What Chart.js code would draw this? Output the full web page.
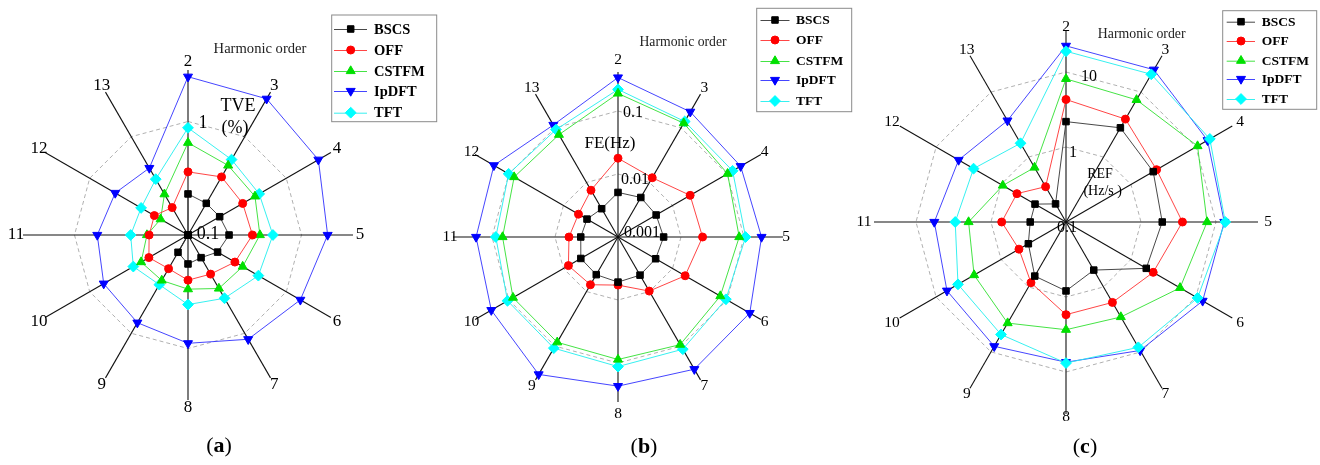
<!DOCTYPE html>
<html><head><meta charset="utf-8">
<script src="https://cdn.jsdelivr.net/npm/chart.js@4.4.1/dist/chart.umd.min.js"></script>
<style>
html,body{margin:0;padding:0;background:#fff;width:1320px;height:465px;overflow:hidden}
.panel{position:absolute;top:0;height:465px}
canvas{display:block;background:transparent}
</style></head><body>
<div class="panel" style="left:0;width:440px"><canvas id="ca" width="440" height="465"></canvas></div>
<div class="panel" style="left:440px;width:420px"><canvas id="cb" width="420" height="465"></canvas></div>
<div class="panel" style="left:850px;width:470px"><canvas id="cc" width="470" height="465"></canvas></div>
<script>
// ---------- data ----------
const harmonicOrders = ['2','3','4','5','6','7','8','9','10','11','12','13'];
const seriesNames = ['BSCS','OFF','CSTFM','IpDFT','TFT'];

// (a) TVE (%)
const tveBSCS  = [0.23, 0.21, 0.21, 0.23, 0.20, 0.17, 0.18, 0.15, 0.10, 0.10, 0.10, 0.10];
const tveOFF   = [0.36, 0.39, 0.36, 0.37, 0.30, 0.25, 0.25, 0.22, 0.25, 0.22, 0.22, 0.19];
const tveCSTFM = [0.65, 0.51, 0.48, 0.43, 0.36, 0.35, 0.30, 0.29, 0.30, 0.23, 0.19, 0.26];
const tveIpDFT = [2.48, 2.43, 2.12, 1.70, 1.39, 1.15, 0.90, 0.78, 0.72, 0.63, 0.55, 0.48];
const tveTFT   = [0.88, 0.585, 0.53, 0.56, 0.52, 0.44, 0.41, 0.32, 0.36, 0.32, 0.30, 0.37];
const tveTickLabels = ['0.1', '1'];

// (b) FE (Hz)
const feBSCS  = [0.0051, 0.0053, 0.0050, 0.0053, 0.0049, 0.0050, 0.0052, 0.0049, 0.0048, 0.0039, 0.0037, 0.0033];
const feOFF   = [0.0178, 0.0122, 0.021, 0.022, 0.017, 0.0098, 0.0058, 0.0075, 0.0081, 0.0060, 0.0053, 0.0072];
const feCSTFM = [0.19, 0.122, 0.102, 0.084, 0.075, 0.094, 0.088, 0.085, 0.084, 0.068, 0.080, 0.075];
const feIpDFT = [0.34, 0.197, 0.177, 0.19, 0.26, 0.265, 0.233, 0.33, 0.21, 0.179, 0.188, 0.113];
const feTFT   = [0.22, 0.131, 0.126, 0.106, 0.095, 0.114, 0.114, 0.109, 0.106, 0.087, 0.101, 0.093];
const feTickLabels = ['0.001', '0.01', '0.1'];

// (c) REF (Hz/s)
const refBSCS  = [2.18, 2.82, 2.2, 1.92, 1.72, 0.55, 0.83, 0.68, 0.38, 0.30, 0.30, 0.19];
const refOFF   = [4.3, 3.84, 2.48, 3.57, 2.2, 1.73, 1.72, 0.86, 0.53, 0.72, 0.57, 0.35];
const refCSTFM = [8.1, 7.6, 10.6, 7.6, 5.7, 2.9, 2.73, 3.6, 2.6, 1.99, 0.94, 0.69];
const refIpDFT = [22.3, 22.1, 15.1, 12.9, 12.7, 9.5, 7.4, 8.2, 6.8, 5.7, 4.5, 3.64];
const refTFT   = [18.9, 18.8, 16.4, 13.3, 10.6, 8.5, 7.6, 5.4, 4.6, 3.0, 2.65, 1.63];
const refTickLabels = ['0.1', '1', '10'];

// ---------- styles ----------
const SERIF = '"Liberation Serif", "Times New Roman", serif';
const seriesStyle = [
  {color:'#000000', line:'#333333', pointStyle:'rect',     rotation:0,   radius:4.6, order:0},
  {color:'#ff0000', line:'#ff3030', pointStyle:'circle',   rotation:0,   radius:4.0, order:1},
  {color:'#00e000', line:'#30e030', pointStyle:'triangle', rotation:0,   radius:5.2, order:2},
  {color:'#0000ff', line:'#3030ff', pointStyle:'triangle', rotation:180, radius:5.2, order:4},
  {color:'#00ffff', line:'#20eeee', pointStyle:'rectRot',  rotation:0,   radius:5.4, order:3}
];

const panels = [
  {
    id:'ca', series:[tveBSCS, tveOFF, tveCSTFM, tveIpDFT, tveTFT], tickLabels: tveTickLabels,
    cx:188, cy:235, R:165, decadePx:113.5,
    axisFont:17, axisOffV:8, axisOffH:7, tickFont:18, tickOffsets:[[20,-1],[15,2]],
    unit:{font:18, lines:[['TVE',238,106],['(%)',235,128]]},
    order:{x:260, y:49, font:14.6},
    legend:{box:[331.7,15,105,106.7], rows:[29,50,71,91,112.7], line:[334,367], mx:350.7, tx:374, font:14.5},
    tag:{text:'a', x:219, y:446}
  },
  {
    id:'cb', series:[feBSCS, feOFF, feCSTFM, feIpDFT, feTFT], tickLabels: feTickLabels,
    cx:178, cy:237, R:165, decadePx:63,
    axisFont:15.5, axisOffV:12, axisOffH:3, tickFont:16, tickOffsets:[[24,-4],[17,6],[15,2]],
    unit:{font:17, lines:[['FE(Hz)',170,144]]},
    order:{x:243, y:42, font:13.7},
    legend:{box:[316.7,8.3,95,103.4], rows:[20,40,61,80,101], line:[320.5,349.5], mx:335, tx:356, font:13.5},
    tag:{text:'b', x:204, y:447}
  },
  {
    id:'cc', series:[refBSCS, refOFF, refCSTFM, refIpDFT, refTFT], tickLabels: refTickLabels,
    cx:216, cy:222, R:192, decadePx:75,
    axisFont:15.5, axisOffV:3, axisOffH:10, tickFont:16, tickOffsets:[[1,6],[7,6],[23,5]],
    unit:{font:14, lines:[['REF',250,174],['(Hz/s )',252.7,191.7]]},
    order:{x:291.7, y:34.3, font:13.8},
    legend:{box:[372.7,10.7,94,98.6], rows:[21.7,41,60.7,79,99], line:[376.7,405], mx:391, tx:411.7, font:13.5},
    tag:{text:'c', x:235, y:447}
  }
];

function drawMarker(ctx, st, x, y) {
  ctx.save();
  ctx.fillStyle = st.color; ctx.strokeStyle = st.color; ctx.lineWidth = 1;
  if (Chart.helpers && Chart.helpers.drawPoint) {
    Chart.helpers.drawPoint(ctx, {pointStyle: st.pointStyle, rotation: st.rotation, radius: st.radius, borderWidth: 1}, x, y);
  } else {
    ctx.beginPath(); ctx.arc(x, y, st.radius, 0, Math.PI*2); ctx.fill();
  }
  ctx.restore();
}

function makePanel(p) {
  const minLog = Math.log10(parseFloat(p.tickLabels[0]));
  const maxLog = minLog + p.R / p.decadePx;
  const ringValues = p.tickLabels.slice(1).map(t => Math.log10(parseFloat(t)));

  const datasets = p.series.map((vals, i) => {
    const st = seriesStyle[i];
    return {
      label: seriesNames[i],
      data: vals.map(v => Math.log10(v)),
      borderColor: st.line, borderWidth: 0.9, fill: false,
      pointStyle: st.pointStyle, pointRotation: st.rotation, pointRadius: st.radius,
      pointBackgroundColor: st.color, pointBorderColor: st.color, pointBorderWidth: 1,
      order: st.order, tension: 0
    };
  });

  const deco = {
    id: 'deco_' + p.id,
    afterDraw(chart) {
      const ctx = chart.ctx;
      const s = chart.scales.r;
      const n = harmonicOrders.length;
      ctx.save();
      ctx.fillStyle = '#000';
      ctx.textAlign = 'center'; ctx.textBaseline = 'middle';
      // axis (harmonic order) labels
      ctx.font = p.axisFont + 'px ' + SERIF;
      harmonicOrders.forEach((lab, i) => {
        const th = i * 2 * Math.PI / n;
        const off = p.axisOffV + (p.axisOffH - p.axisOffV) * Math.abs(Math.sin(th));
        const pt = s.getPointPosition(i, s.drawingArea + off);
        ctx.fillText(lab, pt.x, pt.y);
      });
      // tick labels
      ctx.font = p.tickFont + 'px ' + SERIF;
      p.tickLabels.forEach((t, i) => {
        const d = s.getDistanceFromCenterForValue(Math.log10(parseFloat(t)));
        const off = p.tickOffsets[i];
        ctx.fillText(t, s.xCenter + off[0], s.yCenter - d + off[1]);
      });
      // unit
      ctx.font = p.unit.font + 'px ' + SERIF;
      p.unit.lines.forEach(l => ctx.fillText(l[0], l[1], l[2]));
      // Harmonic order
      ctx.fillStyle = '#222';
      ctx.font = p.order.font + 'px ' + SERIF;
      ctx.fillText('Harmonic order', p.order.x, p.order.y);
      // legend
      const L = p.legend;
      ctx.strokeStyle = '#8a8a8a'; ctx.lineWidth = 1;
      ctx.strokeRect(L.box[0], L.box[1], L.box[2], L.box[3]);
      ctx.textAlign = 'left';
      ctx.font = 'bold ' + L.font + 'px ' + SERIF;
      seriesNames.forEach((name, i) => {
        const st = seriesStyle[i];
        const y = L.rows[i];
        ctx.strokeStyle = st.line; ctx.lineWidth = 0.9;
        ctx.beginPath(); ctx.moveTo(L.line[0], y + 0.5); ctx.lineTo(L.line[1], y + 0.5); ctx.stroke();
        drawMarker(ctx, st, L.mx, y);
        ctx.fillStyle = '#000';
        ctx.fillText(name, L.tx, y + 1);
      });
      // panel tag "(a)"
      const tf = 22;
      ctx.textBaseline = 'middle';
      ctx.font = tf + 'px ' + SERIF;
      const wp = ctx.measureText('(').width, wq = ctx.measureText(')').width;
      ctx.font = 'bold ' + tf + 'px ' + SERIF;
      const wl = ctx.measureText(p.tag.text).width;
      let x0 = p.tag.x - (wp + wl + wq) / 2;
      ctx.fillStyle = '#000';
      ctx.font = tf + 'px ' + SERIF; ctx.fillText('(', x0, p.tag.y);
      ctx.font = 'bold ' + tf + 'px ' + SERIF; ctx.fillText(p.tag.text, x0 + wp, p.tag.y);
      ctx.font = tf + 'px ' + SERIF; ctx.fillText(')', x0 + wp + wl, p.tag.y);
      ctx.restore();
    }
  };

  new Chart(document.getElementById(p.id), {
    type: 'radar',
    data: { labels: harmonicOrders, datasets },
    options: {
      responsive: false, animation: false,
      layout: { padding: 0 },
      plugins: { legend: { display: false }, tooltip: { enabled: false } },
      scales: {
        r: {
          min: minLog, max: maxLog, startAngle: 0,
          ticks: { display: false },
          afterBuildTicks: (sc) => { sc.ticks = ringValues.map(v => ({ value: v })); },
          afterFit: (sc) => { sc.xCenter = p.cx; sc.yCenter = p.cy; sc.drawingArea = p.R; },
          grid: { circular: false, color: '#b0b0b0', lineWidth: 1 },
          border: { dash: [4, 3] },
          angleLines: { display: true, color: '#111', lineWidth: 1.1 },
          pointLabels: { display: false }
        }
      }
    },
    plugins: [deco]
  });
}

panels.forEach(makePanel);
</script>
</body></html>
